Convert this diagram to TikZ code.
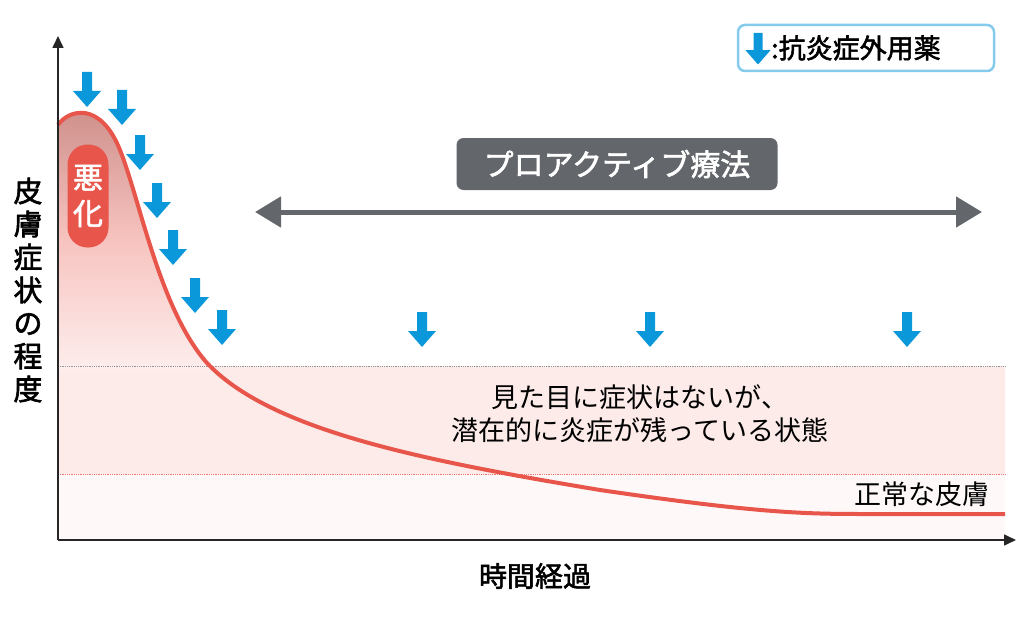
\documentclass[tikz,border=0pt]{standalone}
\usepackage{fontspec}
\setmainfont{Noto Sans CJK JP}
\newfontfamily\jpb{Noto Sans CJK JP}[FakeBold=2]
\usetikzlibrary{arrows.meta}
\definecolor{blu}{HTML}{0A98DA}
\definecolor{redc}{HTML}{E8554A}
\definecolor{gry}{HTML}{63676C}
\tikzset{
 pics/medarrow/.style={code={\fill[blu] (-5,0) -- (5,0) -- (5,19) -- (14,19) -- (0,35) -- (-14,19) -- (-5,19) -- cycle;}},
 lbl/.style={font=\fontsize{27}{33}\selectfont, text=black}
}
\begin{document}
\begin{tikzpicture}[x=1pt,y=-1pt]
\useasboundingbox (0,0) rectangle (1029,618);
% band
\fill[redc!12] (58,366) rectangle (1005,474);
\fill[redc!4] (58,474) rectangle (1005,540);
% area under curve
\begin{scope}
\clip (58,540) -- (58,125) .. controls (68,110) and (100,100) .. (120,150)
 .. controls (140,200) and (160,310) .. (207,363)
 .. controls (270,430) and (420,460) .. (600,490)
 .. controls (750,512) and (800,514) .. (860,514) -- (1005,514) -- (1005,540) -- cycle;
\shade[top color=redc!50!white!85!black, bottom color=redc!10, middle color=redc!35] (58,110) rectangle (260,370);
\end{scope}
\draw[gry!70, densely dotted, thick] (58,366) -- (1005,366);
\draw[redc!80, densely dotted, thick] (58,474) -- (1005,474);
% curve
\draw[redc, line width=4pt] (58,125) .. controls (68,110) and (100,100) .. (120,150)
 .. controls (140,200) and (160,310) .. (207,363)
 .. controls (270,430) and (420,460) .. (600,490)
 .. controls (750,512) and (800,514) .. (860,514) -- (1005,514);
% axes
\coordinate (o) at (58,540);
\coordinate (yt) at (58,36);
\coordinate (xt) at (1016,540);
\draw[line width=1.6pt, black!85, -{Triangle[length=12pt,width=11pt]}] (o) -- (yt);
\draw[line width=1.6pt, black!85, -{Triangle[length=12pt,width=11pt]}] (o) -- (xt);
% arrows
\foreach \x/\y in {87/72,122/90,140/135,157/183,173/230,195/278,222/310,422/312,650/312,907/312}
 \pic at (\x,\y) {medarrow};
% worse pill
\node[fill=redc, rounded corners=20pt, minimum width=41pt, minimum height=103pt, text=white, font=\jpb\fontsize{30}{36}\selectfont, align=center, inner sep=0pt] (worse) at (88,196) {悪\\化};
% proactive label
\node[fill=gry, rounded corners=7pt, minimum width=321pt, minimum height=52pt, text=white, font=\jpb\fontsize{30}{36}\selectfont] (pro) at (617,164) {プロアクティブ療法};
\coordinate (dl) at (255,212);
\coordinate (dr) at (982,212);
\draw[gry, line width=5pt, {Triangle[length=26pt,width=30pt]}-{Triangle[length=26pt,width=30pt]}] (dl) -- (dr);
% legend
\node[draw=blu!50, line width=2.5pt, rounded corners=7pt, minimum width=256pt, minimum height=46pt] (leg) at (866,48) {};
\pic[scale=0.9] at (758,33) {medarrow};
\node[anchor=west, font=\jpb\fontsize{27}{32}\selectfont, inner sep=0pt] (legt) at (771,48) {:抗炎症外用薬};
% texts
\node[lbl, align=center] (note) at (640,414) {見た目に症状はないが、\\潜在的に炎症が残っている状態};
\node[lbl] (normal) at (922,494) {正常な皮膚};
\node[font=\jpb\fontsize{28}{33}\selectfont] (xl) at (535,576) {時間経過};
\node[font=\jpb\fontsize{29}{33}\selectfont, align=center] (yl) at (28,290) {皮\\膚\\症\\状\\の\\程\\度};
\end{tikzpicture}
\end{document}
